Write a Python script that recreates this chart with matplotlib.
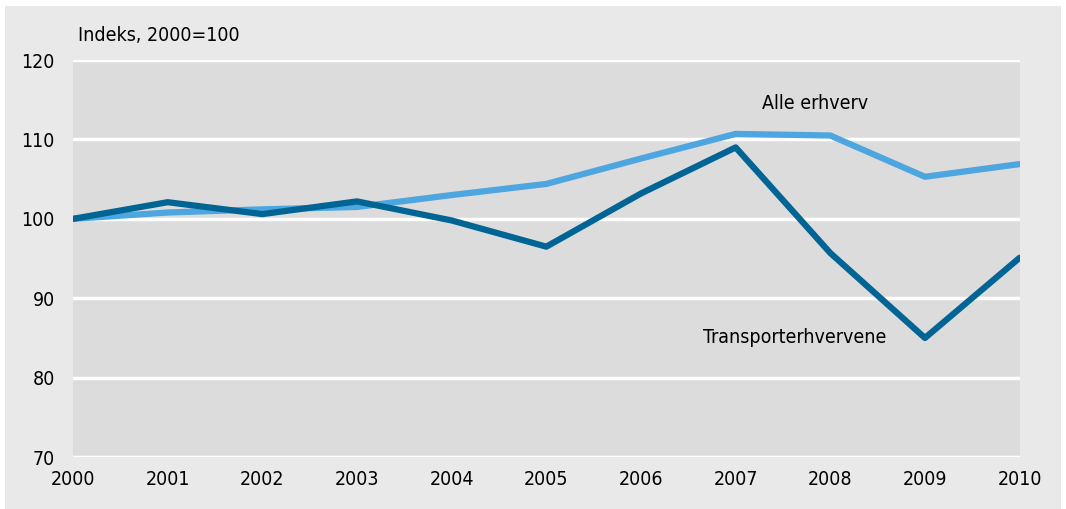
import matplotlib.pyplot as plt

years = [2000, 2001, 2002, 2003, 2004, 2005, 2006, 2007, 2008, 2009, 2010]
alle_erhverv = [100.0, 100.8, 101.2, 101.5, 103.0, 104.4, 107.6, 110.7, 110.5, 105.3, 106.9]
transport = [100.0, 102.1, 100.6, 102.2, 99.8, 96.5, 103.2, 109.0, 95.7, 85.0, 95.1]
yticks = [70, 80, 90, 100, 110, 120]

plt.rcParams['font.family'] = ['Liberation Sans Narrow', 'DejaVu Sans']
plt.rcParams['font.stretch'] = 'condensed'

fig = plt.figure(figsize=(10.66, 5.09), dpi=100, facecolor='white')
bg = fig.add_axes([0.005, 0.0, 0.99, 0.988])
bg.set_facecolor('#e9e9e9')
bg.set_xticks([])
bg.set_yticks([])
for s in bg.spines.values():
    s.set_visible(False)

ax = fig.add_axes([0.0685, 0.102, 0.888, 0.780])
ax.set_facecolor('#dcdcdc')
ax.plot(years, alle_erhverv, color='#4da6e0', lw=4.5, solid_joinstyle='round', solid_capstyle='round')
ax.plot(years, transport, color='#006494', lw=4.5, solid_joinstyle='round', solid_capstyle='round')

ax.set_xlim(2000, 2010)
ax.set_ylim(70, 120)
ax.set_yticks(yticks)
ax.set_xticks(years)
ax.grid(axis='y', color='white', lw=2.5)
ax.set_axisbelow(True)
for s in ax.spines.values():
    s.set_visible(False)
ax.tick_params(length=0, labelsize=14)
ax.tick_params(axis='y', pad=13)
ax.tick_params(axis='x', pad=9)

ax.text(0.005, 1.037, 'Indeks, 2000=100', transform=ax.transAxes, fontsize=14, va='bottom')
ax.text(2007.84, 114.5, 'Alle erhverv', fontsize=14, ha='center', va='center')
ax.text(2007.62, 85.0, 'Transporterhvervene', fontsize=14, ha='center', va='center')

fig.savefig('out.png', dpi=100, facecolor='white')
